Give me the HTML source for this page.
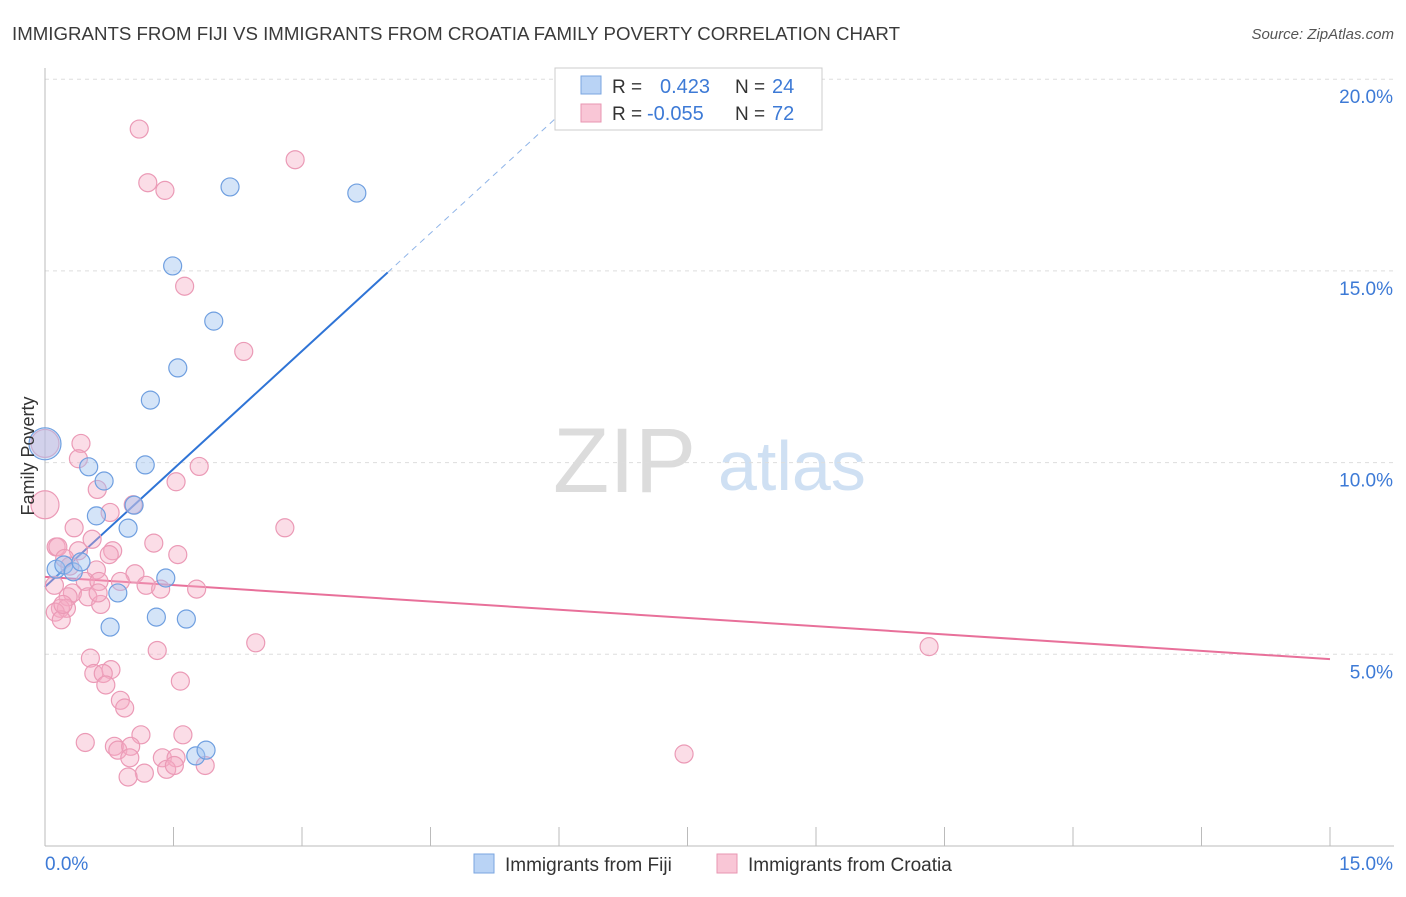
<!DOCTYPE html>
<html><head><meta charset="utf-8"><style>
body{margin:0;background:#fff;font-family:"Liberation Sans",sans-serif;}
svg text{font-family:"Liberation Sans",sans-serif;}
</style></head><body>
<svg id="chart" width="1406" height="892" xmlns="http://www.w3.org/2000/svg">
<text x="12" y="40" font-size="18" fill="#3a3a3a" textLength="888" lengthAdjust="spacingAndGlyphs">IMMIGRANTS FROM FIJI VS IMMIGRANTS FROM CROATIA FAMILY POVERTY CORRELATION CHART</text>
<text x="1394" y="39" font-size="15" fill="#555" text-anchor="end" font-style="italic">Source: ZipAtlas.com</text>
<g>
<text x="553" y="492" font-size="92" fill="#dcdcdc" font-family="Liberation Serif, serif">ZIP</text>
<text x="718" y="490" font-size="70" fill="#cfe0f3">atlas</text>
</g>
<g id="grid"></g>
<g id="axes"></g>
<g id="trends"></g>
<g id="points"></g>
<text transform="translate(34,456) rotate(-90)" font-size="18" fill="#333" text-anchor="middle">Family Poverty</text>
<g>
<rect x="555" y="68" width="267" height="62" fill="#fff" stroke="#ccc"/>
<rect x="581" y="76" width="20" height="18" fill="#b9d3f5" stroke="#7aa6e0"/>
<rect x="581" y="104" width="20" height="18" fill="#f9c6d6" stroke="#e896b2"/>
<text x="612" y="93" font-size="19" fill="#333">R =</text>
<text x="660" y="93" font-size="20" fill="#3d7ad6">0.423</text>
<text x="735" y="93" font-size="19" fill="#333">N =</text>
<text x="772" y="93" font-size="20" fill="#3d7ad6">24</text>
<text x="612" y="120" font-size="19" fill="#333">R =</text>
<text x="647" y="120" font-size="20" fill="#3d7ad6">-0.055</text>
<text x="735" y="120" font-size="19" fill="#333">N =</text>
<text x="772" y="120" font-size="20" fill="#3d7ad6">72</text>
</g>
<g>
<rect x="474" y="854" width="20" height="19" fill="#b9d3f5" stroke="#7aa6e0"/>
<text x="505" y="871" font-size="19" fill="#333">Immigrants from Fiji</text>
<rect x="717" y="854" width="20" height="19" fill="#f9c6d6" stroke="#e896b2"/>
<text x="748" y="871" font-size="19" fill="#333">Immigrants from Croatia</text>
</g>
</svg>
<script>
const xTicks=[0,1.5,3,4.5,6,7.5,9,10.5,12,13.5,15];
const yTicks=[5,10,15,20];
const yTickLabels=["5.0%","10.0%","15.0%","20.0%"];
const fijiX=[0,0.13,0.22,0.33,0.42,0.51,0.60,0.69,0.76,0.85,0.97,1.04,1.17,1.23,1.30,1.41,1.49,1.55,1.65,1.76,1.88,1.97,2.16,3.64];
const fijiY=[10.49,7.22,7.33,7.15,7.41,9.89,8.61,9.52,5.71,6.60,8.29,8.89,9.94,11.63,5.97,6.99,15.13,12.47,5.92,2.35,2.50,13.69,17.19,17.03];
const fijiR=[16,9,9,9,9,9,9,9,9,9,9,9,9,9,9,9,9,9,9,9,9,9,9,9];
const croX=[1.10,1.20,1.40,2.92,1.63,2.32,0.42,0,0,0.39,1.80,1.53,0.61,1.03,0.76,0.34,2.80,0.13,0.15,0.39,0.55,1.27,0.79,0.75,1.55,0.23,0.29,0.60,1.05,0.47,0.63,1.18,1.35,1.77,0.11,0.32,0.50,0.27,0.65,0.18,0.25,0.12,0.19,2.46,10.32,1.31,0.53,0.57,0.77,0.68,0.71,1.58,0.88,0.93,1.12,1.61,0.47,0.81,0.85,1.00,0.99,1.37,1.53,1.87,1.16,1.42,1.51,0.97,7.46,0.21,0.62,0.88];
const croY=[18.7,17.3,17.1,17.9,14.6,12.9,10.5,10.5,8.9,10.1,9.9,9.5,9.3,8.9,8.7,8.3,8.3,7.8,7.8,7.7,8.0,7.9,7.7,7.6,7.6,7.5,7.3,7.2,7.1,6.9,6.9,6.8,6.7,6.7,6.8,6.6,6.5,6.5,6.3,6.2,6.2,6.1,5.9,5.3,5.2,5.1,4.9,4.5,4.6,4.5,4.2,4.3,3.8,3.6,2.9,2.9,2.7,2.6,2.5,2.6,2.3,2.3,2.3,2.1,1.9,2.0,2.1,1.8,2.4,6.3,6.6,6.9];
const croR=[9,9,9,9,9,9,9,14,14,9,9,9,9,9,9,9,9,9,9,9,9,9,9,9,9,9,9,9,9,9,9,9,9,9,9,9,9,9,9,9,9,9,9,9,9,9,9,9,9,9,9,9,9,9,9,9,9,9,9,9,9,9,9,9,9,9,9,9,9,9,9,9];
const fijiTrend=[6.76,2.05];
const croTrend=[7.02,-0.143];
const NS="http://www.w3.org/2000/svg";
const X0=45,X1=1330,YB=846,YPX=191.7/5;
const sx=v=>X0+(v/15)*(X1-X0);
const sy=v=>YB-v*YPX;
function mk(tag,attrs,parent){const e=document.createElementNS(NS,tag);for(const k in attrs)e.setAttribute(k,attrs[k]);parent.appendChild(e);return e;}
const grid=document.getElementById('grid'),axes=document.getElementById('axes'),trends=document.getElementById('trends'),pts=document.getElementById('points');
yTicks.forEach((t,i)=>{
 const l=mk('line',{x1:X0,x2:1394,y1:sy(t),y2:sy(t),stroke:'#ddd','stroke-dasharray':'4,4'},grid);
 
 
 const tx=mk('text',{x:1393,y:sy(t)+24,'font-size':19,fill:'#3d7ad6','text-anchor':'end'},axes);
 tx.textContent=yTickLabels[i];
 
 
});
const xa=mk('line',{x1:X0,x2:1394,y1:YB,y2:YB,stroke:'#bbb'},axes);


const ya=mk('line',{x1:X0,x2:X0,y1:68,y2:YB,stroke:'#bbb'},axes);


xTicks.forEach(t=>{
 const l=mk('line',{x1:sx(t),x2:sx(t),y1:YB,y2:t===0?YB:827,stroke:'#bbb'},axes);
 
 
});
const xl0=mk('text',{x:45,y:870,'font-size':19,fill:'#3d7ad6'},axes);xl0.textContent='0.0%';


const xl1=mk('text',{x:1393,y:870,'font-size':19,fill:'#3d7ad6','text-anchor':'end'},axes);xl1.textContent='15.0%';


const fx1=4.0, fx2=(20-fijiTrend[0])/fijiTrend[1];
const fl=mk('line',{x1:sx(0),y1:sy(fijiTrend[0]),x2:sx(fx1),y2:sy(fijiTrend[0]+fijiTrend[1]*fx1),stroke:'#2f74d6','stroke-width':2},trends);


const fd=mk('line',{x1:sx(fx1),y1:sy(fijiTrend[0]+fijiTrend[1]*fx1),x2:sx(fx2),y2:sy(20),stroke:'#8fb4e8','stroke-width':1,'stroke-dasharray':'6,5'},trends);


const cl=mk('line',{x1:sx(0),y1:sy(croTrend[0]),x2:sx(15),y2:sy(croTrend[0]+croTrend[1]*15),stroke:'#e8709a','stroke-width':2},trends);


croX.forEach((v,i)=>{
 const c=mk('circle',{cx:sx(v),cy:sy(croY[i]),r:croR[i],fill:'rgba(245,170,195,0.4)',stroke:'#eb9ab6','stroke-width':1.2},pts);
 
 
});
fijiX.forEach((v,i)=>{
 const c=mk('circle',{cx:sx(v),cy:sy(fijiY[i]),r:fijiR[i],fill:'rgba(160,195,240,0.45)',stroke:'#6f9fe0','stroke-width':1.2},pts);
 
 
});
</script>
</body></html>
